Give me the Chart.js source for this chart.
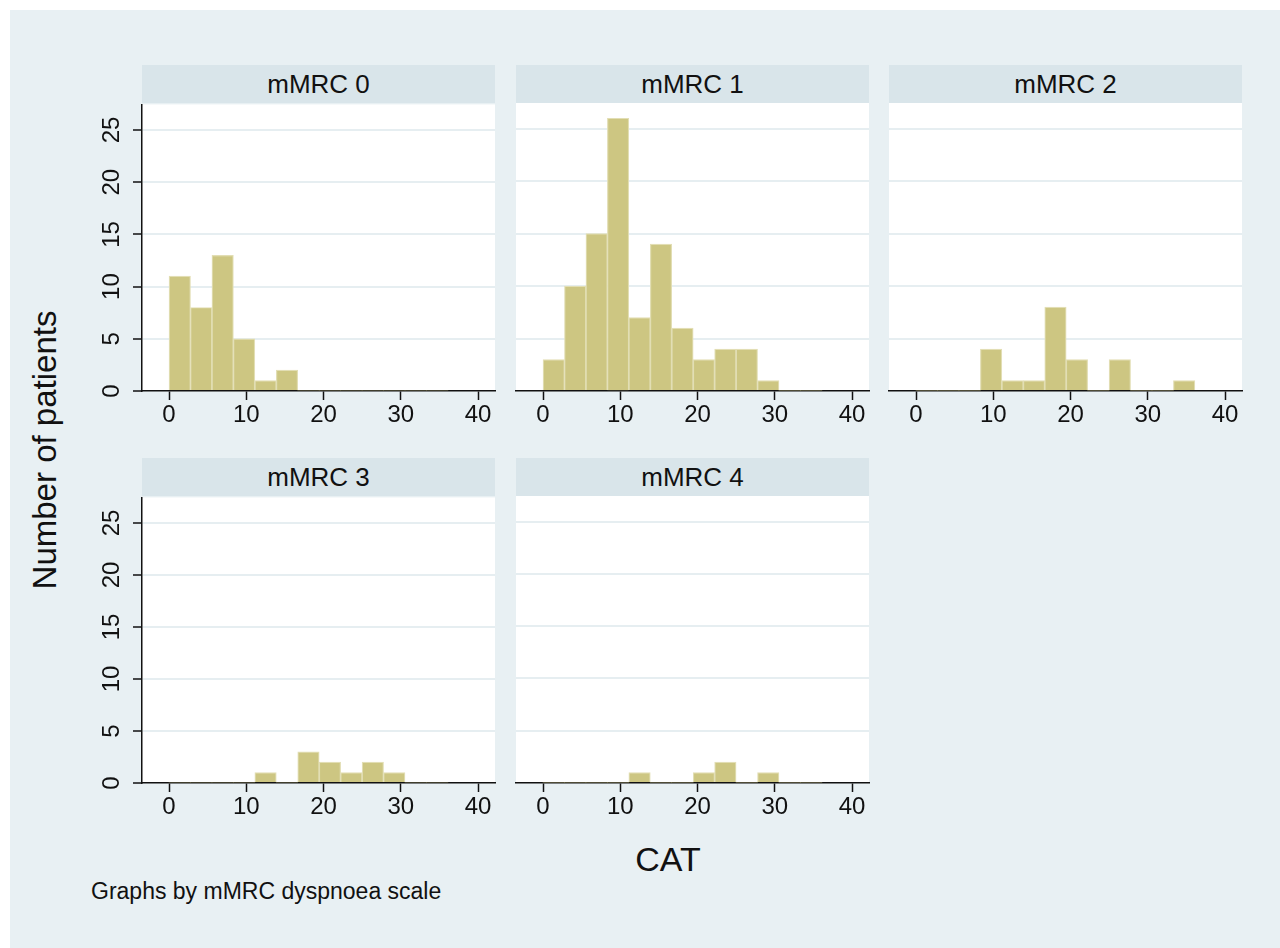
<!DOCTYPE html>
<html>
<head>
<meta charset="utf-8">
<script src="https://cdn.jsdelivr.net/npm/chart.js@4.4.1/dist/chart.umd.min.js"></script>
<style>
  html, body { margin: 0; padding: 0; background: #ffffff; }
  body { width: 1280px; height: 948px; position: relative; overflow: hidden; font-family: "Liberation Sans", Arial, sans-serif; }
  #bg { position: absolute; left: 10px; top: 10px; width: 1270px; height: 938px; background: #E8F0F3; }
  .hdr { position: absolute; background: #D9E5EA; color: #111; font-size: 26px; text-align: center; }
  .box { position: absolute; }
  #ytitle { position: absolute; left: 45px; top: 450px; transform: translate(-50%, -50%) rotate(-90deg); font-size: 33px; color: #111; white-space: nowrap; }
  #xtitle { position: absolute; left: 668px; top: 859px; transform: translate(-50%, -50%); font-size: 34px; color: #111; white-space: nowrap; }
  #note { position: absolute; left: 91px; top: 878px; font-size: 23px; color: #111; white-space: nowrap; }
</style>
</head>
<body>
<div id="bg"></div>
<div id="ytitle">Number of patients</div>
<div id="xtitle">CAT</div>
<div id="note">Graphs by mMRC dyspnoea scale</div>
<script>
// ---- data ----
const panelTitles = ["mMRC 0", "mMRC 1", "mMRC 2", "mMRC 3", "mMRC 4"];
const binStart = 0;
const binWidth = 2.777;
const counts0 = [11, 8, 13, 5, 1, 2, 0, 0, 0, 0, 0, 0, 0];
const counts1 = [3, 10, 15, 26, 7, 14, 6, 3, 4, 4, 1, 0, 0];
const counts2 = [0, 0, 0, 4, 1, 1, 8, 3, 0, 3, 0, 0, 1];
const counts3 = [0, 0, 0, 0, 1, 0, 3, 2, 1, 2, 1, 0, 0];
const counts4 = [0, 0, 0, 0, 1, 0, 0, 1, 2, 0, 1, 0, 0];
const xTicks = [0, 10, 20, 30, 40];
const yTicks = [0, 5, 10, 15, 20, 25];
const xMin = -3.5, xMax = 42.2;
const yMin = 0, yMax = 27.45;

const allCounts = [counts0, counts1, counts2, counts3, counts4];

// ---- layout ----
const colLeft = [142, 516, 889];
const plotW = 353;
const rowTop = [103, 496];
const plotH = [288, 287];
const hdrH = 38;
const padT = 20, padR = 20;
const yAxisW = 60;
const xAxisH = 45;

const barColor = 'rgb(205,198,130)';
const barEdge = 'rgb(226,222,180)';
const gridColor = '#E6EEF1';
const inkColor = '#111111';
const tickFont = { family: '"Liberation Sans", Arial, sans-serif', size: 24 };

Chart.defaults.font.family = '"Liberation Sans", Arial, sans-serif';
Chart.defaults.color = inkColor;

const plotBg = {
  id: 'plotBg',
  beforeDraw(chart) {
    const a = chart.chartArea, ctx = chart.ctx;
    ctx.save();
    ctx.fillStyle = '#ffffff';
    ctx.fillRect(a.left, a.top, a.right - a.left, a.bottom - a.top);
    ctx.restore();
  }
};

panelTitles.forEach((title, i) => {
  const r = Math.floor(i / 3), c = i % 3;
  const hasY = (c === 0);
  const padL = hasY ? 0 : 20;
  const yW = hasY ? yAxisW : 0;

  const hdr = document.createElement('div');
  hdr.className = 'hdr';
  hdr.style.left = colLeft[c] + 'px';
  hdr.style.top = (rowTop[r] - hdrH) + 'px';
  hdr.style.width = plotW + 'px';
  hdr.style.height = hdrH + 'px';
  hdr.style.lineHeight = hdrH + 'px';
  hdr.textContent = title;
  document.body.appendChild(hdr);

  const box = document.createElement('div');
  box.className = 'box';
  const w = padL + yW + plotW + padR;
  const h = padT + plotH[r] + xAxisH;
  box.style.left = (colLeft[c] - yW - padL) + 'px';
  box.style.top = (rowTop[r] - padT) + 'px';
  box.style.width = w + 'px';
  box.style.height = h + 'px';
  const cv = document.createElement('canvas');
  box.appendChild(cv);
  document.body.appendChild(box);

  const data = allCounts[i].map((v, k) => ({ x: binStart + (k + 0.5) * binWidth, y: v }));

  new Chart(cv, {
    type: 'bar',
    data: {
      datasets: [{
        data: data,
        backgroundColor: barColor,
        borderColor: barEdge,
        borderWidth: (ctx) => (ctx.raw && ctx.raw.y > 0 ? 1.2 : 0),
        borderSkipped: 'bottom',
        barPercentage: 1,
        categoryPercentage: 1
      }]
    },
    plugins: [plotBg],
    options: {
      responsive: true,
      maintainAspectRatio: false,
      animation: false,
      devicePixelRatio: 1,
      layout: { padding: { left: padL, top: padT, right: padR, bottom: 0 } },
      plugins: { legend: { display: false }, tooltip: { enabled: false }, title: { display: false } },
      scales: {
        x: {
          type: 'linear',
          offset: false,
          min: xMin, max: xMax,
          afterBuildTicks: (s) => { s.ticks = xTicks.map(v => ({ value: v })); },
          afterFit: (s) => { s.height = xAxisH; },
          grid: { display: true, offset: false, drawOnChartArea: false, drawTicks: true, tickLength: 9, tickColor: inkColor, tickWidth: 1.5 },
          border: { display: true, color: inkColor, width: 1.5 },
          ticks: { font: tickFont, color: inkColor, padding: 1, maxRotation: 0, minRotation: 0, autoSkip: false }
        },
        y: {
          min: yMin, max: yMax,
          afterBuildTicks: (s) => { s.ticks = yTicks.map(v => ({ value: v })); },
          afterFit: (s) => { s.width = yW; },
          grid: {
            display: true,
            drawOnChartArea: true,
            drawTicks: hasY,
            tickLength: 9,
            tickColor: inkColor,
            tickWidth: 1.5,
            color: (ctx) => (ctx.tick && ctx.tick.value === 0 ? 'rgba(0,0,0,0)' : gridColor),
            lineWidth: 2
          },
          border: { display: hasY, color: inkColor, width: 1.5 },
          ticks: {
            display: hasY,
            font: tickFont,
            color: inkColor,
            minRotation: 90,
            maxRotation: 90,
            crossAlign: 'center',
            padding: 7,
            autoSkip: false
          }
        }
      }
    }
  });
});
</script>
</body>
</html>
